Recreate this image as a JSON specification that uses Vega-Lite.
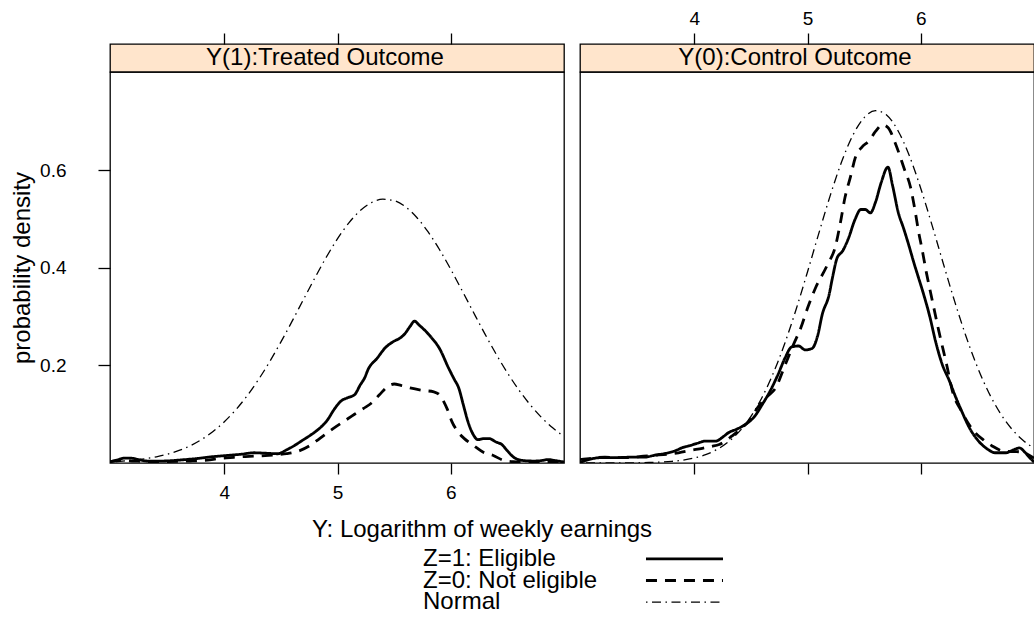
{
 "$schema": "https://vega.github.io/schema/vega-lite/v6.json",
 "padding": {"left": 9, "top": 8, "right": 1, "bottom": 1},
 "background": "white",
 "config": {
  "font": "Liberation Sans",
  "view": {"stroke": "black", "strokeWidth": 1.3},
  "axis": {"domain": false, "grid": false, "tickColor": "black", "labelColor": "black", "titleColor": "black", "labelFontSize": 19, "titleFontSize": 24, "titleFontWeight": "normal", "tickSize": 11, "tickWidth": 1.3},
  "title": {"fontSize": 24, "fontWeight": "normal", "color": "black"}
 },
 "datasets": {
  "curves": [
   {"panel": "Y(1)", "series": "Z=1: Eligible", "x": 2.99, "y": 0.002},
   {"panel": "Y(1)", "series": "Z=1: Eligible", "x": 3.05, "y": 0.006},
   {"panel": "Y(1)", "series": "Z=1: Eligible", "x": 3.12, "y": 0.010},
   {"panel": "Y(1)", "series": "Z=1: Eligible", "x": 3.17, "y": 0.010},
   {"panel": "Y(1)", "series": "Z=1: Eligible", "x": 3.24, "y": 0.007},
   {"panel": "Y(1)", "series": "Z=1: Eligible", "x": 3.32, "y": 0.004},
   {"panel": "Y(1)", "series": "Z=1: Eligible", "x": 3.45, "y": 0.004},
   {"panel": "Y(1)", "series": "Z=1: Eligible", "x": 3.6, "y": 0.006},
   {"panel": "Y(1)", "series": "Z=1: Eligible", "x": 3.75, "y": 0.009},
   {"panel": "Y(1)", "series": "Z=1: Eligible", "x": 3.9, "y": 0.013},
   {"panel": "Y(1)", "series": "Z=1: Eligible", "x": 4.05, "y": 0.016},
   {"panel": "Y(1)", "series": "Z=1: Eligible", "x": 4.15, "y": 0.018},
   {"panel": "Y(1)", "series": "Z=1: Eligible", "x": 4.26, "y": 0.021},
   {"panel": "Y(1)", "series": "Z=1: Eligible", "x": 4.37, "y": 0.020},
   {"panel": "Y(1)", "series": "Z=1: Eligible", "x": 4.47, "y": 0.019},
   {"panel": "Y(1)", "series": "Z=1: Eligible", "x": 4.55, "y": 0.027},
   {"panel": "Y(1)", "series": "Z=1: Eligible", "x": 4.62, "y": 0.036},
   {"panel": "Y(1)", "series": "Z=1: Eligible", "x": 4.68, "y": 0.045},
   {"panel": "Y(1)", "series": "Z=1: Eligible", "x": 4.76, "y": 0.057},
   {"panel": "Y(1)", "series": "Z=1: Eligible", "x": 4.83, "y": 0.069},
   {"panel": "Y(1)", "series": "Z=1: Eligible", "x": 4.91, "y": 0.088},
   {"panel": "Y(1)", "series": "Z=1: Eligible", "x": 4.97, "y": 0.110},
   {"panel": "Y(1)", "series": "Z=1: Eligible", "x": 5.03, "y": 0.127},
   {"panel": "Y(1)", "series": "Z=1: Eligible", "x": 5.09, "y": 0.134},
   {"panel": "Y(1)", "series": "Z=1: Eligible", "x": 5.15, "y": 0.140},
   {"panel": "Y(1)", "series": "Z=1: Eligible", "x": 5.20, "y": 0.160},
   {"panel": "Y(1)", "series": "Z=1: Eligible", "x": 5.24, "y": 0.175},
   {"panel": "Y(1)", "series": "Z=1: Eligible", "x": 5.27, "y": 0.192},
   {"panel": "Y(1)", "series": "Z=1: Eligible", "x": 5.35, "y": 0.215},
   {"panel": "Y(1)", "series": "Z=1: Eligible", "x": 5.42, "y": 0.236},
   {"panel": "Y(1)", "series": "Z=1: Eligible", "x": 5.50, "y": 0.250},
   {"panel": "Y(1)", "series": "Z=1: Eligible", "x": 5.55, "y": 0.256},
   {"panel": "Y(1)", "series": "Z=1: Eligible", "x": 5.59, "y": 0.264},
   {"panel": "Y(1)", "series": "Z=1: Eligible", "x": 5.64, "y": 0.280},
   {"panel": "Y(1)", "series": "Z=1: Eligible", "x": 5.68, "y": 0.291},
   {"panel": "Y(1)", "series": "Z=1: Eligible", "x": 5.72, "y": 0.283},
   {"panel": "Y(1)", "series": "Z=1: Eligible", "x": 5.78, "y": 0.270},
   {"panel": "Y(1)", "series": "Z=1: Eligible", "x": 5.83, "y": 0.257},
   {"panel": "Y(1)", "series": "Z=1: Eligible", "x": 5.90, "y": 0.235},
   {"panel": "Y(1)", "series": "Z=1: Eligible", "x": 5.98, "y": 0.195},
   {"panel": "Y(1)", "series": "Z=1: Eligible", "x": 6.03, "y": 0.172},
   {"panel": "Y(1)", "series": "Z=1: Eligible", "x": 6.07, "y": 0.154},
   {"panel": "Y(1)", "series": "Z=1: Eligible", "x": 6.11, "y": 0.120},
   {"panel": "Y(1)", "series": "Z=1: Eligible", "x": 6.15, "y": 0.086},
   {"panel": "Y(1)", "series": "Z=1: Eligible", "x": 6.19, "y": 0.062},
   {"panel": "Y(1)", "series": "Z=1: Eligible", "x": 6.24, "y": 0.048},
   {"panel": "Y(1)", "series": "Z=1: Eligible", "x": 6.29, "y": 0.050},
   {"panel": "Y(1)", "series": "Z=1: Eligible", "x": 6.34, "y": 0.050},
   {"panel": "Y(1)", "series": "Z=1: Eligible", "x": 6.40, "y": 0.043},
   {"panel": "Y(1)", "series": "Z=1: Eligible", "x": 6.45, "y": 0.038},
   {"panel": "Y(1)", "series": "Z=1: Eligible", "x": 6.50, "y": 0.025},
   {"panel": "Y(1)", "series": "Z=1: Eligible", "x": 6.56, "y": 0.011},
   {"panel": "Y(1)", "series": "Z=1: Eligible", "x": 6.64, "y": 0.005},
   {"panel": "Y(1)", "series": "Z=1: Eligible", "x": 6.74, "y": 0.004},
   {"panel": "Y(1)", "series": "Z=1: Eligible", "x": 6.80, "y": 0.005},
   {"panel": "Y(1)", "series": "Z=1: Eligible", "x": 6.86, "y": 0.007},
   {"panel": "Y(1)", "series": "Z=1: Eligible", "x": 6.92, "y": 0.005},
   {"panel": "Y(1)", "series": "Z=1: Eligible", "x": 7.0, "y": 0.002},

   {"panel": "Y(1)", "series": "Z=0: Not eligible", "x": 2.99, "y": 0.003},
   {"panel": "Y(1)", "series": "Z=0: Not eligible", "x": 3.1, "y": 0.005},
   {"panel": "Y(1)", "series": "Z=0: Not eligible", "x": 3.2, "y": 0.004},
   {"panel": "Y(1)", "series": "Z=0: Not eligible", "x": 3.35, "y": 0.003},
   {"panel": "Y(1)", "series": "Z=0: Not eligible", "x": 3.5, "y": 0.003},
   {"panel": "Y(1)", "series": "Z=0: Not eligible", "x": 3.7, "y": 0.004},
   {"panel": "Y(1)", "series": "Z=0: Not eligible", "x": 3.85, "y": 0.006},
   {"panel": "Y(1)", "series": "Z=0: Not eligible", "x": 3.95, "y": 0.009},
   {"panel": "Y(1)", "series": "Z=0: Not eligible", "x": 4.05, "y": 0.011},
   {"panel": "Y(1)", "series": "Z=0: Not eligible", "x": 4.15, "y": 0.013},
   {"panel": "Y(1)", "series": "Z=0: Not eligible", "x": 4.26, "y": 0.014},
   {"panel": "Y(1)", "series": "Z=0: Not eligible", "x": 4.36, "y": 0.015},
   {"panel": "Y(1)", "series": "Z=0: Not eligible", "x": 4.47, "y": 0.017},
   {"panel": "Y(1)", "series": "Z=0: Not eligible", "x": 4.55, "y": 0.019},
   {"panel": "Y(1)", "series": "Z=0: Not eligible", "x": 4.65, "y": 0.024},
   {"panel": "Y(1)", "series": "Z=0: Not eligible", "x": 4.75, "y": 0.035},
   {"panel": "Y(1)", "series": "Z=0: Not eligible", "x": 4.83, "y": 0.048},
   {"panel": "Y(1)", "series": "Z=0: Not eligible", "x": 4.90, "y": 0.060},
   {"panel": "Y(1)", "series": "Z=0: Not eligible", "x": 4.97, "y": 0.072},
   {"panel": "Y(1)", "series": "Z=0: Not eligible", "x": 5.06, "y": 0.086},
   {"panel": "Y(1)", "series": "Z=0: Not eligible", "x": 5.15, "y": 0.100},
   {"panel": "Y(1)", "series": "Z=0: Not eligible", "x": 5.23, "y": 0.112},
   {"panel": "Y(1)", "series": "Z=0: Not eligible", "x": 5.30, "y": 0.123},
   {"panel": "Y(1)", "series": "Z=0: Not eligible", "x": 5.37, "y": 0.140},
   {"panel": "Y(1)", "series": "Z=0: Not eligible", "x": 5.45, "y": 0.158},
   {"panel": "Y(1)", "series": "Z=0: Not eligible", "x": 5.50, "y": 0.162},
   {"panel": "Y(1)", "series": "Z=0: Not eligible", "x": 5.56, "y": 0.159},
   {"panel": "Y(1)", "series": "Z=0: Not eligible", "x": 5.64, "y": 0.154},
   {"panel": "Y(1)", "series": "Z=0: Not eligible", "x": 5.75, "y": 0.149},
   {"panel": "Y(1)", "series": "Z=0: Not eligible", "x": 5.85, "y": 0.146},
   {"panel": "Y(1)", "series": "Z=0: Not eligible", "x": 5.90, "y": 0.140},
   {"panel": "Y(1)", "series": "Z=0: Not eligible", "x": 5.94, "y": 0.125},
   {"panel": "Y(1)", "series": "Z=0: Not eligible", "x": 5.97, "y": 0.110},
   {"panel": "Y(1)", "series": "Z=0: Not eligible", "x": 6.01, "y": 0.085},
   {"panel": "Y(1)", "series": "Z=0: Not eligible", "x": 6.06, "y": 0.065},
   {"panel": "Y(1)", "series": "Z=0: Not eligible", "x": 6.12, "y": 0.050},
   {"panel": "Y(1)", "series": "Z=0: Not eligible", "x": 6.20, "y": 0.036},
   {"panel": "Y(1)", "series": "Z=0: Not eligible", "x": 6.28, "y": 0.023},
   {"panel": "Y(1)", "series": "Z=0: Not eligible", "x": 6.38, "y": 0.015},
   {"panel": "Y(1)", "series": "Z=0: Not eligible", "x": 6.46, "y": 0.006},
   {"panel": "Y(1)", "series": "Z=0: Not eligible", "x": 6.55, "y": 0.003},
   {"panel": "Y(1)", "series": "Z=0: Not eligible", "x": 6.7, "y": 0.002},
   {"panel": "Y(1)", "series": "Z=0: Not eligible", "x": 7.0, "y": 0.001},

   {"panel": "Y(1)", "series": "Normal", "x": 2.99, "y": 0.0024},
   {"panel": "Y(1)", "series": "Normal", "x": 3.1, "y": 0.0038},
   {"panel": "Y(1)", "series": "Normal", "x": 3.2, "y": 0.0058},
   {"panel": "Y(1)", "series": "Normal", "x": 3.3, "y": 0.0086},
   {"panel": "Y(1)", "series": "Normal", "x": 3.4, "y": 0.0127},
   {"panel": "Y(1)", "series": "Normal", "x": 3.5, "y": 0.0182},
   {"panel": "Y(1)", "series": "Normal", "x": 3.6, "y": 0.0257},
   {"panel": "Y(1)", "series": "Normal", "x": 3.7, "y": 0.0355},
   {"panel": "Y(1)", "series": "Normal", "x": 3.8, "y": 0.0483},
   {"panel": "Y(1)", "series": "Normal", "x": 3.9, "y": 0.0645},
   {"panel": "Y(1)", "series": "Normal", "x": 4.0, "y": 0.0846},
   {"panel": "Y(1)", "series": "Normal", "x": 4.1, "y": 0.1089},
   {"panel": "Y(1)", "series": "Normal", "x": 4.2, "y": 0.1375},
   {"panel": "Y(1)", "series": "Normal", "x": 4.3, "y": 0.1706},
   {"panel": "Y(1)", "series": "Normal", "x": 4.4, "y": 0.2077},
   {"panel": "Y(1)", "series": "Normal", "x": 4.5, "y": 0.2484},
   {"panel": "Y(1)", "series": "Normal", "x": 4.6, "y": 0.2915},
   {"panel": "Y(1)", "series": "Normal", "x": 4.7, "y": 0.3359},
   {"panel": "Y(1)", "series": "Normal", "x": 4.8, "y": 0.3799},
   {"panel": "Y(1)", "series": "Normal", "x": 4.9, "y": 0.4220},
   {"panel": "Y(1)", "series": "Normal", "x": 5.0, "y": 0.4602},
   {"panel": "Y(1)", "series": "Normal", "x": 5.1, "y": 0.4926},
   {"panel": "Y(1)", "series": "Normal", "x": 5.2, "y": 0.5177},
   {"panel": "Y(1)", "series": "Normal", "x": 5.3, "y": 0.5342},
   {"panel": "Y(1)", "series": "Normal", "x": 5.4, "y": 0.5411},
   {"panel": "Y(1)", "series": "Normal", "x": 5.5, "y": 0.5381},
   {"panel": "Y(1)", "series": "Normal", "x": 5.6, "y": 0.5254},
   {"panel": "Y(1)", "series": "Normal", "x": 5.7, "y": 0.5036},
   {"panel": "Y(1)", "series": "Normal", "x": 5.8, "y": 0.4739},
   {"panel": "Y(1)", "series": "Normal", "x": 5.9, "y": 0.4379},
   {"panel": "Y(1)", "series": "Normal", "x": 6.0, "y": 0.3972},
   {"panel": "Y(1)", "series": "Normal", "x": 6.1, "y": 0.3536},
   {"panel": "Y(1)", "series": "Normal", "x": 6.2, "y": 0.3092},
   {"panel": "Y(1)", "series": "Normal", "x": 6.3, "y": 0.2654},
   {"panel": "Y(1)", "series": "Normal", "x": 6.4, "y": 0.2236},
   {"panel": "Y(1)", "series": "Normal", "x": 6.5, "y": 0.1850},
   {"panel": "Y(1)", "series": "Normal", "x": 6.6, "y": 0.1503},
   {"panel": "Y(1)", "series": "Normal", "x": 6.7, "y": 0.1198},
   {"panel": "Y(1)", "series": "Normal", "x": 6.8, "y": 0.0938},
   {"panel": "Y(1)", "series": "Normal", "x": 6.9, "y": 0.0721},
   {"panel": "Y(1)", "series": "Normal", "x": 7.0, "y": 0.0544},

   {"panel": "Y(0)", "series": "Z=1: Eligible", "x": 2.99, "y": 0.001},
   {"panel": "Y(0)", "series": "Z=1: Eligible", "x": 3.05, "y": 0.006},
   {"panel": "Y(0)", "series": "Z=1: Eligible", "x": 3.18, "y": 0.011},
   {"panel": "Y(0)", "series": "Z=1: Eligible", "x": 3.30, "y": 0.011},
   {"panel": "Y(0)", "series": "Z=1: Eligible", "x": 3.45, "y": 0.012},
   {"panel": "Y(0)", "series": "Z=1: Eligible", "x": 3.56, "y": 0.012},
   {"panel": "Y(0)", "series": "Z=1: Eligible", "x": 3.65, "y": 0.016},
   {"panel": "Y(0)", "series": "Z=1: Eligible", "x": 3.75, "y": 0.020},
   {"panel": "Y(0)", "series": "Z=1: Eligible", "x": 3.83, "y": 0.025},
   {"panel": "Y(0)", "series": "Z=1: Eligible", "x": 3.90, "y": 0.032},
   {"panel": "Y(0)", "series": "Z=1: Eligible", "x": 3.95, "y": 0.035},
   {"panel": "Y(0)", "series": "Z=1: Eligible", "x": 4.02, "y": 0.040},
   {"panel": "Y(0)", "series": "Z=1: Eligible", "x": 4.10, "y": 0.045},
   {"panel": "Y(0)", "series": "Z=1: Eligible", "x": 4.19, "y": 0.045},
   {"panel": "Y(0)", "series": "Z=1: Eligible", "x": 4.25, "y": 0.053},
   {"panel": "Y(0)", "series": "Z=1: Eligible", "x": 4.30, "y": 0.062},
   {"panel": "Y(0)", "series": "Z=1: Eligible", "x": 4.38, "y": 0.070},
   {"panel": "Y(0)", "series": "Z=1: Eligible", "x": 4.45, "y": 0.079},
   {"panel": "Y(0)", "series": "Z=1: Eligible", "x": 4.53, "y": 0.095},
   {"panel": "Y(0)", "series": "Z=1: Eligible", "x": 4.60, "y": 0.120},
   {"panel": "Y(0)", "series": "Z=1: Eligible", "x": 4.67, "y": 0.148},
   {"panel": "Y(0)", "series": "Z=1: Eligible", "x": 4.74, "y": 0.182},
   {"panel": "Y(0)", "series": "Z=1: Eligible", "x": 4.80, "y": 0.215},
   {"panel": "Y(0)", "series": "Z=1: Eligible", "x": 4.86, "y": 0.238},
   {"panel": "Y(0)", "series": "Z=1: Eligible", "x": 4.92, "y": 0.240},
   {"panel": "Y(0)", "series": "Z=1: Eligible", "x": 4.98, "y": 0.232},
   {"panel": "Y(0)", "series": "Z=1: Eligible", "x": 5.04, "y": 0.235},
   {"panel": "Y(0)", "series": "Z=1: Eligible", "x": 5.09, "y": 0.262},
   {"panel": "Y(0)", "series": "Z=1: Eligible", "x": 5.13, "y": 0.305},
   {"panel": "Y(0)", "series": "Z=1: Eligible", "x": 5.19, "y": 0.345},
   {"panel": "Y(0)", "series": "Z=1: Eligible", "x": 5.22, "y": 0.380},
   {"panel": "Y(0)", "series": "Z=1: Eligible", "x": 5.26, "y": 0.420},
   {"panel": "Y(0)", "series": "Z=1: Eligible", "x": 5.31, "y": 0.435},
   {"panel": "Y(0)", "series": "Z=1: Eligible", "x": 5.36, "y": 0.460},
   {"panel": "Y(0)", "series": "Z=1: Eligible", "x": 5.42, "y": 0.500},
   {"panel": "Y(0)", "series": "Z=1: Eligible", "x": 5.47, "y": 0.520},
   {"panel": "Y(0)", "series": "Z=1: Eligible", "x": 5.51, "y": 0.520},
   {"panel": "Y(0)", "series": "Z=1: Eligible", "x": 5.555, "y": 0.513},
   {"panel": "Y(0)", "series": "Z=1: Eligible", "x": 5.60, "y": 0.535},
   {"panel": "Y(0)", "series": "Z=1: Eligible", "x": 5.65, "y": 0.575},
   {"panel": "Y(0)", "series": "Z=1: Eligible", "x": 5.71, "y": 0.607},
   {"panel": "Y(0)", "series": "Z=1: Eligible", "x": 5.75, "y": 0.570},
   {"panel": "Y(0)", "series": "Z=1: Eligible", "x": 5.80, "y": 0.515},
   {"panel": "Y(0)", "series": "Z=1: Eligible", "x": 5.85, "y": 0.480},
   {"panel": "Y(0)", "series": "Z=1: Eligible", "x": 5.89, "y": 0.450},
   {"panel": "Y(0)", "series": "Z=1: Eligible", "x": 5.94, "y": 0.410},
   {"panel": "Y(0)", "series": "Z=1: Eligible", "x": 5.98, "y": 0.380},
   {"panel": "Y(0)", "series": "Z=1: Eligible", "x": 6.02, "y": 0.350},
   {"panel": "Y(0)", "series": "Z=1: Eligible", "x": 6.08, "y": 0.300},
   {"panel": "Y(0)", "series": "Z=1: Eligible", "x": 6.13, "y": 0.250},
   {"panel": "Y(0)", "series": "Z=1: Eligible", "x": 6.19, "y": 0.202},
   {"panel": "Y(0)", "series": "Z=1: Eligible", "x": 6.25, "y": 0.170},
   {"panel": "Y(0)", "series": "Z=1: Eligible", "x": 6.30, "y": 0.140},
   {"panel": "Y(0)", "series": "Z=1: Eligible", "x": 6.36, "y": 0.107},
   {"panel": "Y(0)", "series": "Z=1: Eligible", "x": 6.43, "y": 0.072},
   {"panel": "Y(0)", "series": "Z=1: Eligible", "x": 6.51, "y": 0.045},
   {"panel": "Y(0)", "series": "Z=1: Eligible", "x": 6.58, "y": 0.030},
   {"panel": "Y(0)", "series": "Z=1: Eligible", "x": 6.66, "y": 0.021},
   {"panel": "Y(0)", "series": "Z=1: Eligible", "x": 6.75, "y": 0.021},
   {"panel": "Y(0)", "series": "Z=1: Eligible", "x": 6.82, "y": 0.027},
   {"panel": "Y(0)", "series": "Z=1: Eligible", "x": 6.87, "y": 0.031},
   {"panel": "Y(0)", "series": "Z=1: Eligible", "x": 6.92, "y": 0.022},
   {"panel": "Y(0)", "series": "Z=1: Eligible", "x": 6.95, "y": 0.014},
   {"panel": "Y(0)", "series": "Z=1: Eligible", "x": 7.0, "y": 0.002},

   {"panel": "Y(0)", "series": "Z=0: Not eligible", "x": 2.99, "y": 0.007},
   {"panel": "Y(0)", "series": "Z=0: Not eligible", "x": 3.10, "y": 0.010},
   {"panel": "Y(0)", "series": "Z=0: Not eligible", "x": 3.21, "y": 0.012},
   {"panel": "Y(0)", "series": "Z=0: Not eligible", "x": 3.32, "y": 0.011},
   {"panel": "Y(0)", "series": "Z=0: Not eligible", "x": 3.42, "y": 0.011},
   {"panel": "Y(0)", "series": "Z=0: Not eligible", "x": 3.55, "y": 0.014},
   {"panel": "Y(0)", "series": "Z=0: Not eligible", "x": 3.66, "y": 0.016},
   {"panel": "Y(0)", "series": "Z=0: Not eligible", "x": 3.76, "y": 0.018},
   {"panel": "Y(0)", "series": "Z=0: Not eligible", "x": 3.86, "y": 0.021},
   {"panel": "Y(0)", "series": "Z=0: Not eligible", "x": 3.97, "y": 0.026},
   {"panel": "Y(0)", "series": "Z=0: Not eligible", "x": 4.07, "y": 0.030},
   {"panel": "Y(0)", "series": "Z=0: Not eligible", "x": 4.15, "y": 0.034},
   {"panel": "Y(0)", "series": "Z=0: Not eligible", "x": 4.22, "y": 0.038},
   {"panel": "Y(0)", "series": "Z=0: Not eligible", "x": 4.28, "y": 0.046},
   {"panel": "Y(0)", "series": "Z=0: Not eligible", "x": 4.33, "y": 0.055},
   {"panel": "Y(0)", "series": "Z=0: Not eligible", "x": 4.40, "y": 0.068},
   {"panel": "Y(0)", "series": "Z=0: Not eligible", "x": 4.48, "y": 0.086},
   {"panel": "Y(0)", "series": "Z=0: Not eligible", "x": 4.57, "y": 0.117},
   {"panel": "Y(0)", "series": "Z=0: Not eligible", "x": 4.64, "y": 0.135},
   {"panel": "Y(0)", "series": "Z=0: Not eligible", "x": 4.72, "y": 0.155},
   {"panel": "Y(0)", "series": "Z=0: Not eligible", "x": 4.80, "y": 0.200},
   {"panel": "Y(0)", "series": "Z=0: Not eligible", "x": 4.87, "y": 0.240},
   {"panel": "Y(0)", "series": "Z=0: Not eligible", "x": 4.94, "y": 0.277},
   {"panel": "Y(0)", "series": "Z=0: Not eligible", "x": 5.00, "y": 0.318},
   {"panel": "Y(0)", "series": "Z=0: Not eligible", "x": 5.07, "y": 0.359},
   {"panel": "Y(0)", "series": "Z=0: Not eligible", "x": 5.17, "y": 0.404},
   {"panel": "Y(0)", "series": "Z=0: Not eligible", "x": 5.25, "y": 0.448},
   {"panel": "Y(0)", "series": "Z=0: Not eligible", "x": 5.29, "y": 0.493},
   {"panel": "Y(0)", "series": "Z=0: Not eligible", "x": 5.33, "y": 0.544},
   {"panel": "Y(0)", "series": "Z=0: Not eligible", "x": 5.38, "y": 0.588},
   {"panel": "Y(0)", "series": "Z=0: Not eligible", "x": 5.42, "y": 0.625},
   {"panel": "Y(0)", "series": "Z=0: Not eligible", "x": 5.48, "y": 0.648},
   {"panel": "Y(0)", "series": "Z=0: Not eligible", "x": 5.54, "y": 0.660},
   {"panel": "Y(0)", "series": "Z=0: Not eligible", "x": 5.60, "y": 0.680},
   {"panel": "Y(0)", "series": "Z=0: Not eligible", "x": 5.66, "y": 0.694},
   {"panel": "Y(0)", "series": "Z=0: Not eligible", "x": 5.71, "y": 0.688},
   {"panel": "Y(0)", "series": "Z=0: Not eligible", "x": 5.78, "y": 0.653},
   {"panel": "Y(0)", "series": "Z=0: Not eligible", "x": 5.85, "y": 0.606},
   {"panel": "Y(0)", "series": "Z=0: Not eligible", "x": 5.91, "y": 0.565},
   {"panel": "Y(0)", "series": "Z=0: Not eligible", "x": 5.95, "y": 0.517},
   {"panel": "Y(0)", "series": "Z=0: Not eligible", "x": 5.98, "y": 0.475},
   {"panel": "Y(0)", "series": "Z=0: Not eligible", "x": 6.01, "y": 0.440},
   {"panel": "Y(0)", "series": "Z=0: Not eligible", "x": 6.05, "y": 0.390},
   {"panel": "Y(0)", "series": "Z=0: Not eligible", "x": 6.10, "y": 0.335},
   {"panel": "Y(0)", "series": "Z=0: Not eligible", "x": 6.16, "y": 0.270},
   {"panel": "Y(0)", "series": "Z=0: Not eligible", "x": 6.23, "y": 0.200},
   {"panel": "Y(0)", "series": "Z=0: Not eligible", "x": 6.28, "y": 0.147},
   {"panel": "Y(0)", "series": "Z=0: Not eligible", "x": 6.36, "y": 0.106},
   {"panel": "Y(0)", "series": "Z=0: Not eligible", "x": 6.47, "y": 0.065},
   {"panel": "Y(0)", "series": "Z=0: Not eligible", "x": 6.55, "y": 0.048},
   {"panel": "Y(0)", "series": "Z=0: Not eligible", "x": 6.63, "y": 0.035},
   {"panel": "Y(0)", "series": "Z=0: Not eligible", "x": 6.74, "y": 0.024},
   {"panel": "Y(0)", "series": "Z=0: Not eligible", "x": 6.87, "y": 0.023},
   {"panel": "Y(0)", "series": "Z=0: Not eligible", "x": 6.95, "y": 0.017},
   {"panel": "Y(0)", "series": "Z=0: Not eligible", "x": 7.0, "y": 0.010},

   {"panel": "Y(0)", "series": "Normal", "x": 2.99, "y": 0.0000},
   {"panel": "Y(0)", "series": "Normal", "x": 3.4, "y": 0.0002},
   {"panel": "Y(0)", "series": "Normal", "x": 3.6, "y": 0.0010},
   {"panel": "Y(0)", "series": "Normal", "x": 3.8, "y": 0.0033},
   {"panel": "Y(0)", "series": "Normal", "x": 3.9, "y": 0.0060},
   {"panel": "Y(0)", "series": "Normal", "x": 4.0, "y": 0.0103},
   {"panel": "Y(0)", "series": "Normal", "x": 4.1, "y": 0.0171},
   {"panel": "Y(0)", "series": "Normal", "x": 4.2, "y": 0.0277},
   {"panel": "Y(0)", "series": "Normal", "x": 4.3, "y": 0.0433},
   {"panel": "Y(0)", "series": "Normal", "x": 4.4, "y": 0.0654},
   {"panel": "Y(0)", "series": "Normal", "x": 4.5, "y": 0.0957},
   {"panel": "Y(0)", "series": "Normal", "x": 4.6, "y": 0.1355},
   {"panel": "Y(0)", "series": "Normal", "x": 4.7, "y": 0.1857},
   {"panel": "Y(0)", "series": "Normal", "x": 4.8, "y": 0.2463},
   {"panel": "Y(0)", "series": "Normal", "x": 4.9, "y": 0.3160},
   {"panel": "Y(0)", "series": "Normal", "x": 5.0, "y": 0.3924},
   {"panel": "Y(0)", "series": "Normal", "x": 5.1, "y": 0.4716},
   {"panel": "Y(0)", "series": "Normal", "x": 5.2, "y": 0.5485},
   {"panel": "Y(0)", "series": "Normal", "x": 5.3, "y": 0.6173},
   {"panel": "Y(0)", "series": "Normal", "x": 5.4, "y": 0.6723},
   {"panel": "Y(0)", "series": "Normal", "x": 5.5, "y": 0.7085},
   {"panel": "Y(0)", "series": "Normal", "x": 5.6, "y": 0.7226},
   {"panel": "Y(0)", "series": "Normal", "x": 5.7, "y": 0.7132},
   {"panel": "Y(0)", "series": "Normal", "x": 5.8, "y": 0.6811},
   {"panel": "Y(0)", "series": "Normal", "x": 5.9, "y": 0.6296},
   {"panel": "Y(0)", "series": "Normal", "x": 6.0, "y": 0.5631},
   {"panel": "Y(0)", "series": "Normal", "x": 6.1, "y": 0.4874},
   {"panel": "Y(0)", "series": "Normal", "x": 6.2, "y": 0.4082},
   {"panel": "Y(0)", "series": "Normal", "x": 6.3, "y": 0.3309},
   {"panel": "Y(0)", "series": "Normal", "x": 6.4, "y": 0.2595},
   {"panel": "Y(0)", "series": "Normal", "x": 6.5, "y": 0.1970},
   {"panel": "Y(0)", "series": "Normal", "x": 6.6, "y": 0.1447},
   {"panel": "Y(0)", "series": "Normal", "x": 6.7, "y": 0.1029},
   {"panel": "Y(0)", "series": "Normal", "x": 6.8, "y": 0.0708},
   {"panel": "Y(0)", "series": "Normal", "x": 6.9, "y": 0.0471},
   {"panel": "Y(0)", "series": "Normal", "x": 7.0, "y": 0.0304}
  ],
  "legend": [
   {"series": "Z=1: Eligible"},
   {"series": "Z=0: Not eligible"},
   {"series": "Normal"}
  ]
 },
 "spacing": 14,
 "vconcat": [
  {
   "bounds": "flush",
   "align": "each",
   "columns": 2,
   "spacing": {"row": 0, "column": 16},
   "concat": [
    {
     "width": 454, "height": 28,
     "view": {"fill": "#FFE5CC", "stroke": "black", "strokeWidth": 1.3},
     "data": {"values": [{"strip": "Y(1):Treated Outcome"}]},
     "mark": {"type": "text", "fontSize": 24, "baseline": "middle", "align": "center", "dx": -12, "color": "black"},
     "encoding": {"text": {"field": "strip"}}
    },
    {
     "width": 454, "height": 28,
     "view": {"fill": "#FFE5CC", "stroke": "black", "strokeWidth": 1.3},
     "data": {"values": [{"strip": "Y(0):Control Outcome"}]},
     "mark": {"type": "text", "fontSize": 24, "baseline": "middle", "align": "center", "dx": -12, "color": "black"},
     "encoding": {"text": {"field": "strip"}}
    },
    {
     "width": 454, "height": 391,
     "data": {"name": "curves"},
     "transform": [{"filter": "datum.panel === 'Y(1)'"}],
     "resolve": {"axis": {"x": "independent"}},
     "layer": [
      {
       "transform": [{"filter": "datum.series !== 'Normal'"}],
       "mark": {"type": "line", "color": "black", "interpolate": "monotone", "clip": true},
       "encoding": {
        "x": {"field": "x", "type": "quantitative", "scale": {"domain": [2.99, 7.0], "nice": false, "zero": false}, "axis": {"orient": "bottom", "values": [4, 5, 6], "title": null, "labelPadding": 9}},
        "y": {"field": "y", "type": "quantitative", "scale": {"domain": [0, 0.802], "nice": false, "zero": false}, "axis": {"values": [0.2, 0.4, 0.6], "format": ".1f", "title": "probability density", "tickSize": 12, "labelPadding": 32, "titlePadding": 5}},
        "strokeDash": {"field": "series", "type": "nominal", "scale": {"domain": ["Z=1: Eligible", "Z=0: Not eligible", "Normal"], "range": [[1, 0], [11, 8], [1.5, 4.5, 9, 4.5]]}, "legend": null},
        "strokeWidth": {"condition": {"test": "datum.series === 'Normal'", "value": 1.3}, "value": 2.8}
       }
      },
      {
       "transform": [{"filter": "datum.series === 'Normal'"}],
       "mark": {"type": "line", "color": "black", "interpolate": "monotone", "clip": true},
       "encoding": {
        "x": {"field": "x", "type": "quantitative", "scale": {"domain": [2.99, 7.0], "nice": false, "zero": false}, "axis": {"orient": "top", "values": [4, 5, 6], "title": null, "labels": false, "offset": 28}},
        "y": {"field": "y", "type": "quantitative", "scale": {"domain": [0, 0.802], "nice": false, "zero": false}, "axis": {"values": [0.2, 0.4, 0.6], "format": ".1f", "title": "probability density", "tickSize": 12, "labelPadding": 32, "titlePadding": 5}},
        "strokeDash": {"field": "series", "type": "nominal", "legend": null},
        "strokeWidth": {"value": 1.3}
       }
      }
     ]
    },
    {
     "width": 454, "height": 391,
     "data": {"name": "curves"},
     "transform": [{"filter": "datum.panel === 'Y(0)'"}],
     "resolve": {"axis": {"x": "independent"}},
     "layer": [
      {
       "transform": [{"filter": "datum.series !== 'Normal'"}],
       "mark": {"type": "line", "color": "black", "interpolate": "monotone", "clip": true},
       "encoding": {
        "x": {"field": "x", "type": "quantitative", "scale": {"domain": [2.99, 7.0], "nice": false, "zero": false}, "axis": {"orient": "bottom", "values": [4, 5, 6], "title": null, "labels": false}},
        "y": {"field": "y", "type": "quantitative", "scale": {"domain": [0, 0.802], "nice": false, "zero": false}, "axis": null},
        "strokeDash": {"field": "series", "type": "nominal", "scale": {"domain": ["Z=1: Eligible", "Z=0: Not eligible", "Normal"], "range": [[1, 0], [11, 8], [1.5, 4.5, 9, 4.5]]}, "legend": null},
        "strokeWidth": {"condition": {"test": "datum.series === 'Normal'", "value": 1.3}, "value": 2.8}
       }
      },
      {
       "transform": [{"filter": "datum.series === 'Normal'"}],
       "mark": {"type": "line", "color": "black", "interpolate": "monotone", "clip": true},
       "encoding": {
        "x": {"field": "x", "type": "quantitative", "scale": {"domain": [2.99, 7.0], "nice": false, "zero": false}, "axis": {"orient": "top", "values": [4, 5, 6], "title": null, "offset": 28, "labelPadding": 5}},
        "y": {"field": "y", "type": "quantitative", "axis": null},
        "strokeDash": {"field": "series", "type": "nominal", "legend": null},
        "strokeWidth": {"value": 1.3}
       }
      }
     ]
    }
   ]
  },
  {
   "width": 744, "height": 65,
   "view": {"stroke": null},
   "data": {"name": "legend"},
   "title": {"text": "Y: Logarithm of weekly earnings", "fontSize": 24, "fontWeight": "normal", "anchor": "middle", "baseline": "alphabetic", "offset": -14},
   "encoding": {"y": {"field": "series", "type": "nominal", "sort": null, "scale": {"type": "point", "padding": 0.5, "domain": ["Z=1: Eligible", "Z=0: Not eligible", "Normal"]}, "axis": null}},
   "layer": [
    {
     "mark": {"type": "text", "align": "left", "baseline": "middle", "fontSize": 24, "color": "black"},
     "encoding": {
      "x": {"datum": 0.4207, "type": "quantitative", "scale": {"domain": [0, 1], "nice": false, "zero": false}, "axis": null},
      "text": {"field": "series"}
     }
    },
    {
     "mark": {"type": "rule", "color": "black"},
     "encoding": {
      "x": {"datum": 0.7204, "type": "quantitative"},
      "x2": {"datum": 0.8239},
      "strokeDash": {"field": "series", "type": "nominal", "scale": {"domain": ["Z=1: Eligible", "Z=0: Not eligible", "Normal"], "range": [[1, 0], [11, 8], [1.5, 4.5, 9, 4.5]]}, "legend": null},
      "strokeWidth": {"condition": {"test": "datum.series === 'Normal'", "value": 1.3}, "value": 2.8}
     }
    }
   ]
  }
 ]
}
